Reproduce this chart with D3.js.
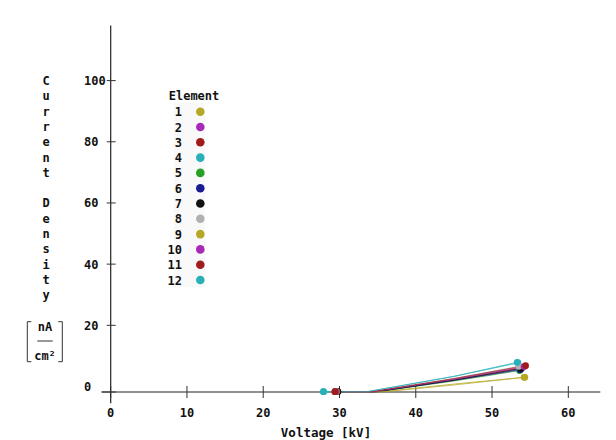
<!DOCTYPE html>
<html>
<head>
<meta charset="utf-8">
<script src="https://cdn.jsdelivr.net/npm/d3@7"></script>
<style>
  body { margin: 0; background: #fff; }
  svg text { font-family: "DejaVu Sans Mono", monospace; font-weight: bold; font-size: 12px; fill: #111; }
</style>
</head>
<body>
<svg id="chart" width="616" height="440"></svg>
<script>
const svg = d3.select("#chart");

// Daten: 12 Elemente, Spannung [kV] und Stromdichte [nA/cm²]
const elements = ["1", "2", "3", "4", "5", "6", "7", "8", "9", "10", "11", "12"];
const colors = ["#b4a824", "#a828b8", "#a01c1c", "#28b0b8", "#28a028", "#181c90",
                "#111111", "#b0b0b0", "#b4a824", "#a828b8", "#a01c1c", "#28b0b8"];
const voltages = [
  [29.6, 35.5, 45, 54.2],
  [29.4, 34.5, 45, 53.8],
  [29.5, 34.5, 45, 54.0],
  [27.9, 33.6, 45, 53.4],
  [29.6, 35.0, 45, 53.6],
  [29.7, 34.8, 45, 53.7],
  [29.8, 35.0, 45, 53.8],
  [29.5, 34.0, 45, 53.5],
  [29.6, 36.0, 45, 54.3],
  [29.5, 34.5, 45, 54.2],
  [29.4, 34.2, 45, 54.4],
  [27.9, 33.6, 45, 53.3]
];
const currents = [
  [-1.7, -1.7, 0.8, 3.0],
  [-1.7, -1.7, 2.0, 5.8],
  [-1.7, -1.7, 2.3, 6.2],
  [-1.7, -1.7, 3.3, 7.7],
  [-1.7, -1.7, 1.8, 5.2],
  [-1.7, -1.7, 2.0, 5.5],
  [-1.7, -1.7, 2.1, 5.9],
  [-1.7, -1.7, 2.6, 6.6],
  [-1.7, -1.7, 0.5, 3.0],
  [-1.7, -1.7, 2.4, 6.5],
  [-1.7, -1.7, 2.6, 6.8],
  [-1.7, -1.7, 3.3, 7.9]
];
const xTicks = [0, 10, 20, 30, 40, 50, 60];
const yTicks = [0, 20, 40, 60, 80, 100];

const x = d3.scaleLinear().domain([0, 60]).range([110.7, 568.3]);
const y = d3.scaleLinear().domain([0, 100]).range([386.5, 80.6]);
const yBase = -1.8; // x-Achse liegt knapp unter 0

// Achsenlinien
svg.append("line")
  .attr("x1", x(-1.2)).attr("x2", x(64.2))
  .attr("y1", y(yBase)).attr("y2", y(yBase))
  .attr("stroke", "#222").attr("stroke-width", 1.2);
svg.append("line")
  .attr("x1", x(0)).attr("x2", x(0))
  .attr("y1", y(118)).attr("y2", y(-5.5))
  .attr("stroke", "#222").attr("stroke-width", 1.2);

// x-Ticks (kreuzend)
xTicks.forEach(t => {
  svg.append("line")
    .attr("x1", x(t)).attr("x2", x(t))
    .attr("y1", y(yBase) - 6).attr("y2", y(yBase) + 6)
    .attr("stroke", "#333").attr("stroke-width", 1);
  svg.append("text")
    .attr("x", x(t)).attr("y", 417)
    .attr("text-anchor", "middle")
    .text(t);
});

// y-Ticks
yTicks.forEach(t => {
  const ty = t === 0 ? y(yBase) : y(t);
  svg.append("line")
    .attr("x1", x(0) - (t === 0 ? 9 : 4)).attr("x2", x(0) + 5)
    .attr("y1", ty).attr("y2", ty)
    .attr("stroke", "#333").attr("stroke-width", 1);
  svg.append("text")
    .attr("x", 84).attr("y", y(t) + 4.5)
    .text(t);
});

// Achsentitel
svg.append("text")
  .attr("x", 326).attr("y", 437)
  .attr("text-anchor", "middle")
  .style("font-size", "12.5px")
  .text("Voltage [kV]");

const yTitle = "Current Density".split("");
yTitle.forEach((c, i) => {
  svg.append("text")
    .attr("x", 46).attr("y", 85 + i * 15.3)
    .attr("text-anchor", "middle")
    .text(c);
});

// Einheit nA / cm²
const unit = svg.append("g");
[[27.3, 31.3], [62.3, 58.3]].forEach(([bx, sx]) => {
  unit.append("path")
    .attr("d", `M${sx},321.7 H${bx} V361.7 H${sx}`)
    .attr("fill", "none").attr("stroke", "#333").attr("stroke-width", 1);
});
unit.append("text").attr("x", 45).attr("y", 331).attr("text-anchor", "middle").text("nA");
unit.append("line").attr("x1", 37.3).attr("x2", 52.7).attr("y1", 341).attr("y2", 341)
  .attr("stroke", "#333").attr("stroke-width", 1);
unit.append("text").attr("x", 45).attr("y", 360).attr("text-anchor", "middle").text("cm²");

// Linien
const line = d3.line().x(d => x(d[0])).y(d => y(d[1]));
elements.forEach((e, i) => {
  const pts = voltages[i].map((v, j) => [v, currents[i][j]]);
  svg.append("path")
    .datum(pts)
    .attr("d", line)
    .attr("fill", "none")
    .attr("stroke", colors[i])
    .attr("stroke-width", 1)
    .attr("opacity", 0.75);
});
// Punkte am Anfang und Ende
elements.forEach((e, i) => {
  const n = voltages[i].length - 1;
  [0, n].forEach(j => {
    svg.append("circle")
      .attr("cx", x(voltages[i][j]))
      .attr("cy", y(currents[i][j]))
      .attr("r", 3.4)
      .attr("fill", colors[i]);
  });
});

// Legende
const legend = svg.append("g");
legend.append("rect")
  .attr("x", 174).attr("y", 103).attr("width", 31).attr("height", 184)
  .attr("fill", "#f9f9f9");
legend.append("text")
  .attr("x", 194).attr("y", 100)
  .attr("text-anchor", "middle")
  .text("Element");
elements.forEach((e, i) => {
  const ly = 111.7 + i * 15.3;
  legend.append("text")
    .attr("x", 182).attr("y", ly + 4.5)
    .attr("text-anchor", "end")
    .text(e);
  legend.append("circle")
    .attr("cx", 200.3).attr("cy", ly)
    .attr("r", 4.3)
    .attr("fill", colors[i]);
});
</script>
</body>
</html>
